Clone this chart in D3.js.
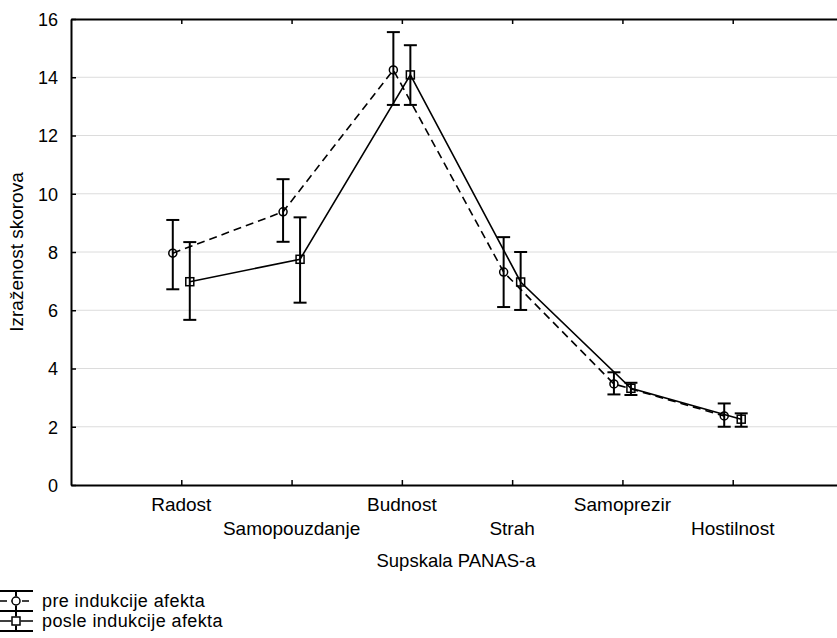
<!DOCTYPE html>
<html>
<head>
<meta charset="utf-8">
<script src="https://cdn.jsdelivr.net/npm/d3@7"></script>
<style>
  html, body { margin: 0; padding: 0; background: #fff; overflow: hidden; }
  text { font-family: "Liberation Sans", Arial, sans-serif; fill: #000; }
</style>
</head>
<body>
<svg id="chart" width="837" height="638"></svg>
<script>
// Data
const categories = ['Radost', 'Samopouzdanje', 'Budnost', 'Strah', 'Samoprezir', 'Hostilnost'];
const preMean  = [7.96, 9.38, 14.25, 7.31, 3.47, 2.37];
const preLow   = [6.72, 8.35, 13.05, 6.11, 3.11, 2.00];
const preHigh  = [9.10, 10.50, 15.55, 8.51, 3.87, 2.80];
const postMean = [6.98, 7.75, 14.08, 6.97, 3.32, 2.26];
const postLow  = [5.67, 6.26, 13.05, 6.01, 3.09, 2.00];
const postHigh = [8.34, 9.19, 15.10, 8.00, 3.51, 2.46];
const yTicks = [0, 2, 4, 6, 8, 10, 12, 14, 16];
const seriesNames = ['pre indukcije afekta', 'posle indukcije afekta'];

const svg = d3.select('#chart');
const margin = { top: 19, left: 71, bottom: 485, right: 843 };

const x = d3.scalePoint()
    .domain(categories)
    .range([margin.left, margin.right])
    .padding(1);

const y = d3.scaleLinear()
    .domain([0, 16])
    .range([margin.bottom, margin.top]);

const offset = 8.5;

// Grid lines
svg.append('g')
    .selectAll('line')
    .data(yTicks.filter(d => d > 0 && d < 16))
    .enter()
    .append('line')
    .attr('x1', margin.left)
    .attr('x2', margin.right)
    .attr('y1', d => y(d))
    .attr('y2', d => y(d))
    .attr('stroke', '#dcdcdc')
    .attr('stroke-width', 1);

// Axes
const yAxis = svg.append('g')
    .attr('transform', `translate(${margin.left},0)`)
    .call(d3.axisLeft(y).tickValues(yTicks).tickSizeInner(-5).tickSizeOuter(0).tickPadding(13));
yAxis.select('.domain').attr('stroke-width', 2);
yAxis.selectAll('.tick line').attr('stroke-width', 1.5);
yAxis.selectAll('text').style('font-size', '18px').attr('dy', '0.36em');

const xAxis = svg.append('g')
    .attr('transform', `translate(0,${margin.bottom})`)
    .call(d3.axisBottom(x).tickSizeInner(-5).tickSizeOuter(0).tickFormat(''));
xAxis.select('.domain').attr('stroke-width', 2);
xAxis.selectAll('.tick line').attr('stroke-width', 1.5);

const topAxis = svg.append('g')
    .attr('transform', `translate(0,${margin.top})`)
    .call(d3.axisTop(x).tickSizeInner(-5).tickSizeOuter(0).tickFormat(''));
topAxis.select('.domain').attr('stroke-width', 2);
topAxis.selectAll('.tick line').attr('stroke-width', 1.5);

// X tick labels, alternating rows
svg.append('g')
    .selectAll('text')
    .data(categories)
    .enter()
    .append('text')
    .attr('x', d => x(d))
    .attr('y', (d, i) => i % 2 === 0 ? 511 : 535)
    .attr('text-anchor', 'middle')
    .style('font-size', '19px')
    .text(d => d);

// Axis titles
svg.append('text')
    .attr('x', 456)
    .attr('y', 567)
    .attr('text-anchor', 'middle')
    .style('font-size', '18.5px')
    .text('Supskala PANAS-a');

svg.append('text')
    .attr('transform', 'translate(23,252) rotate(-90)')
    .attr('text-anchor', 'middle')
    .style('font-size', '19px')
    .text('Izraženost skorova');

// Series
const series = [
    { mean: preMean, low: preLow, high: preHigh, dx: -offset, dash: '8,5', marker: 'circle' },
    { mean: postMean, low: postLow, high: postHigh, dx: offset, dash: null, marker: 'square' }
];

const capW = 6.5;
const markerR = 4;

function drawMarker(g, type, cx, cy) {
    if (type === 'circle') {
        g.append('circle')
            .attr('cx', cx).attr('cy', cy).attr('r', markerR)
            .attr('fill', 'none').attr('stroke', '#000').attr('stroke-width', 1.5);
    } else {
        g.append('rect')
            .attr('x', cx - markerR).attr('y', cy - markerR)
            .attr('width', markerR * 2).attr('height', markerR * 2)
            .attr('fill', 'none').attr('stroke', '#000').attr('stroke-width', 1.5);
    }
}

series.forEach(s => {
    const g = svg.append('g');
    const pts = categories.map((c, i) => [x(c) + s.dx, y(s.mean[i])]);

    g.append('path')
        .attr('d', d3.line()(pts))
        .attr('fill', 'none')
        .attr('stroke', '#000')
        .attr('stroke-width', 1.6)
        .attr('stroke-dasharray', s.dash);

    categories.forEach((c, i) => {
        const cx = x(c) + s.dx;
        const yt = y(s.high[i]);
        const yb = y(s.low[i]);
        g.append('line')
            .attr('x1', cx).attr('x2', cx).attr('y1', yt).attr('y2', yb)
            .attr('stroke', '#000').attr('stroke-width', 2);
        [yt, yb].forEach(yy => {
            g.append('line')
                .attr('x1', cx - capW).attr('x2', cx + capW).attr('y1', yy).attr('y2', yy)
                .attr('stroke', '#000').attr('stroke-width', 2);
        });
        drawMarker(g, s.marker, cx, y(s.mean[i]));
    });
});

// Legend
const legendY = [601, 621];
const legend = svg.append('g');
series.forEach((s, i) => {
    const cy = legendY[i];
    const cx = 16;
    legend.append('line')
        .attr('x1', 0).attr('x2', 33).attr('y1', cy).attr('y2', cy)
        .attr('stroke', '#000').attr('stroke-width', 1.6)
        .attr('stroke-dasharray', s.dash ? '7,4' : null);
    legend.append('line')
        .attr('x1', cx).attr('x2', cx).attr('y1', cy - 10).attr('y2', cy + 10)
        .attr('stroke', '#000').attr('stroke-width', 2);
    [cy - 10, cy + 10].forEach(yy => {
        legend.append('line')
            .attr('x1', 0).attr('x2', 33).attr('y1', yy).attr('y2', yy)
            .attr('stroke', '#000').attr('stroke-width', 2);
    });
    legend.append('rect')
        .attr('x', cx - 4.5).attr('y', cy - 4.5).attr('width', 9).attr('height', 9)
        .attr('fill', '#fff');
    drawMarker(legend, s.marker, cx, cy);
    legend.append('text')
        .attr('x', 42)
        .attr('y', cy + 6)
        .style('font-size', '18px')
        .style('letter-spacing', '0.4px')
        .text(seriesNames[i]);
});
</script>
</body>
</html>
